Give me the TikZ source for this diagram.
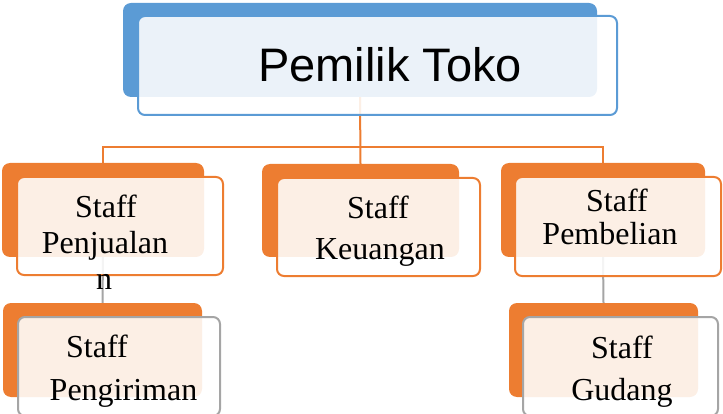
\documentclass[tikz,border=0pt]{standalone}
\usepackage{fontspec}
\setmainfont{Liberation Serif}
\newfontfamily\headfont{Liberation Sans}
\usetikzlibrary{backgrounds}
\definecolor{accblue}{HTML}{5B9BD5}
\definecolor{accorange}{HTML}{ED7D31}
\definecolor{accgray}{HTML}{A5A5A5}
\tikzset{
  backbox/.style={draw=none, fill=#1, rounded corners=8pt, inner sep=0pt},
  frontbox/.style={draw=#1, line width=2pt, fill=white, fill opacity=0.88,
    draw opacity=1, rounded corners=7pt, inner sep=0pt},
  lbl/.style={anchor=base, inner sep=0pt, font=\fontsize{32}{36}\selectfont},
  headlbl/.style={anchor=base, inner sep=0pt, font=\headfont\fontsize{47}{52}\selectfont},
  orgline/.style={draw=accorange, line width=2pt},
  grayline/.style={draw=accgray, line width=2pt},
}
\begin{document}
\begin{tikzpicture}[x=1pt,y=-1pt]
\useasboundingbox (0,0) rectangle (723,414);
\clip (0,0) rectangle (723,414);

% back plates
\node[backbox=accblue,   minimum width=474pt, minimum height=94pt] (ownerbk) at (360,50) {};
\node[backbox=accorange, minimum width=202pt, minimum height=94pt] (penjbk) at (103,210) {};
\node[backbox=accorange, minimum width=197pt, minimum height=93pt] (keubk) at (360.5,210.5) {};
\node[backbox=accorange, minimum width=204pt, minimum height=94pt] (pembbk) at (603,210) {};
\node[backbox=accorange, minimum width=199pt, minimum height=94pt] (pengbk) at (102.5,350) {};
\node[backbox=accorange, minimum width=189pt, minimum height=94pt] (gudbk) at (603.5,350) {};

% connectors behind everything
\begin{scope}[on background layer]
  \path (ownerbk.south) ++(0,50) coordinate (bus);
  \draw[orgline] (ownerbk.south) -- (keubk.north);
  \draw[orgline] (penjbk.north) |- (bus) -| (pembbk.north);
  \draw[grayline] (penjbk.south) -- (pengbk.north);
  \draw[grayline] (pembbk.south) -- (gudbk.north);
\end{scope}

% front cards
\node[frontbox=accblue,   minimum width=479pt, minimum height=99pt] (owner) at (377.5,65.5) {};
\node[frontbox=accorange, minimum width=206pt, minimum height=98pt] (penj) at (120,226) {};
\node[frontbox=accorange, minimum width=203pt, minimum height=98pt] (keu) at (378.5,227) {};
\node[frontbox=accorange, minimum width=206pt, minimum height=99pt] (pemb) at (618,226.5) {};
\node[frontbox=accgray,   minimum width=202pt, minimum height=99pt] (peng) at (119,366.5) {};
\node[frontbox=accgray,   minimum width=195pt, minimum height=99pt] (gud) at (620.5,366.5) {};

% labels
\node[headlbl] (ownertxt) at (390,82) {Pemilik Toko};

\node[lbl] (penjA) at (106,218) {Staff};
\node[lbl] (penjB) at (105,254) {Penjualan};
\node[lbl] (penjC) at (104,290) {n};

\node[lbl] (keuA) at (378,219) {Staff};
\node[lbl] (keuB) at (380,260) {Keuangan};

\node[lbl] (pembA) at (617,212) {Staff};
\node[lbl] (pembB) at (610,245) {Pembelian};

\node[lbl] (pengA) at (97,357) {Staff};
\node[lbl] (pengB) at (123.5,400) {Pengiriman};

\node[lbl] (gudA) at (622,358) {Staff};
\node[lbl] (gudB) at (622,400) {Gudang};
\end{tikzpicture}
\end{document}
